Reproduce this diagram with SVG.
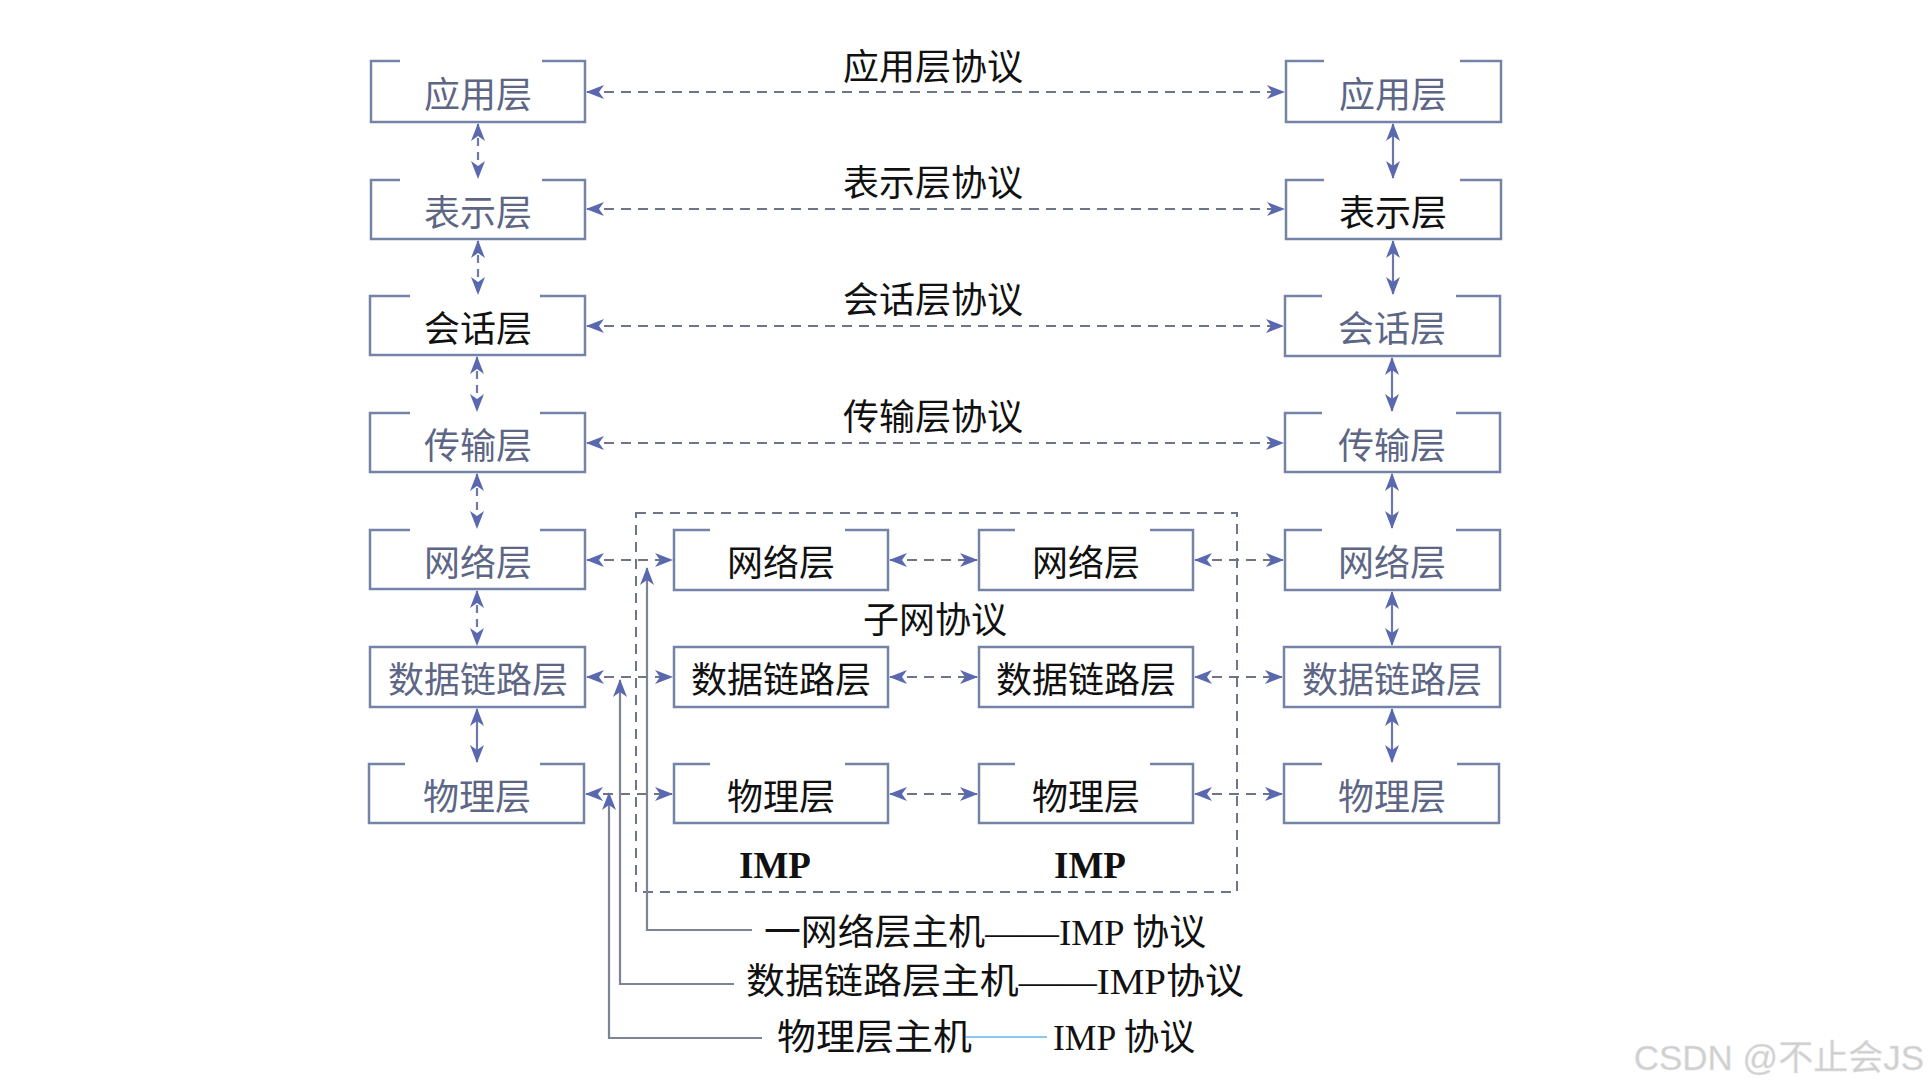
<svg xmlns="http://www.w3.org/2000/svg" width="1928" height="1090" viewBox="0 0 1928 1090">
<style>
.bx{fill:none;stroke:#7683a8;stroke-width:2.5}
.lb{font-family:"Liberation Serif","Noto Sans CJK SC",serif;font-size:36px;text-anchor:middle}
.g{fill:#5d6685}
.k{fill:#111}
.pt{font-family:"Liberation Serif","Noto Sans CJK SC",serif;font-size:36px;fill:#111}
.dh{fill:none;stroke:#6e7588;stroke-width:2.2;stroke-dasharray:10 7}
.dv{fill:none;stroke:#6e7aa8;stroke-width:2.2;stroke-dasharray:8 6}
.sv{fill:none;stroke:#6c78a8;stroke-width:2.2}
.hl{fill:none;stroke:#7c8496;stroke-width:2.2}
</style>
<defs>
<marker id="arr" viewBox="0 0 18 14" refX="17" refY="7" markerWidth="18" markerHeight="14" markerUnits="userSpaceOnUse" orient="auto-start-reverse">
<path d="M0,0 L18,7 L0,14 L5,7 z" fill="#5a68b0"/>
</marker>
</defs>
<rect width="1928" height="1090" fill="#fff"/>

<!-- protocol labels -->
<g id="labels">
<text class="pt" x="933" y="80" text-anchor="middle">应用层协议</text>
<text class="pt" x="933" y="196" text-anchor="middle">表示层协议</text>
<text class="pt" x="933" y="313" text-anchor="middle">会话层协议</text>
<text class="pt" x="933" y="430" text-anchor="middle">传输层协议</text>
<text class="pt" x="935" y="633" text-anchor="middle">子网协议</text>
<text x="775" y="878" font-family="Liberation Serif,serif" font-size="37" font-weight="bold" fill="#111" text-anchor="middle">IMP</text>
<text x="1090" y="878" font-family="Liberation Serif,serif" font-size="37" font-weight="bold" fill="#111" text-anchor="middle">IMP</text>
<text class="pt" x="764" y="945" textLength="442" lengthAdjust="spacingAndGlyphs">一网络层主机——IMP 协议</text>
<text class="pt" x="746" y="994" textLength="498" lengthAdjust="spacingAndGlyphs">数据链路层主机——IMP协议</text>
<text class="pt" x="777" y="1050" textLength="195" lengthAdjust="spacingAndGlyphs">物理层主机</text>
<text class="pt" x="1053" y="1050" textLength="142" lengthAdjust="spacingAndGlyphs">IMP 协议</text>
<text x="1924" y="1070" font-family="Liberation Sans,Noto Sans CJK SC,sans-serif" font-size="35" fill="#cfcfcf" stroke="#e4e4e4" stroke-width="0.5" text-anchor="end">CSDN @不止会JS</text>
</g>

<!-- subnet dashed frame -->
<g id="subnet-frame">
<rect x="636" y="513" width="601" height="379" fill="none" stroke="#6e7588" stroke-width="2" stroke-dasharray="10 7"/>
</g>

<!-- left stack -->
<g id="left-app"><path class="bx" d="M400,61 H371 V122 H585 V61 H542"/><text class="lb g" x="478" y="108">应用层</text></g>
<g id="left-pres"><path class="bx" d="M400,180 H371 V239 H585 V180 H542"/><text class="lb g" x="478" y="226">表示层</text></g>
<g id="left-sess"><path class="bx" d="M410,296 H370 V355 H585 V296 H540"/><text class="lb k" x="478" y="342">会话层</text></g>
<g id="left-trans"><path class="bx" d="M410,413 H370 V472 H585 V413 H540"/><text class="lb g" x="478" y="459">传输层</text></g>
<g id="left-net"><path class="bx" d="M410,530 H370 V589 H585 V530 H540"/><text class="lb g" x="478" y="576">网络层</text></g>
<g id="left-dl"><path class="bx" d="M370,647 H585 V707 H370 Z"/><text class="lb g" x="478" y="693">数据链路层</text></g>
<g id="left-phys"><path class="bx" d="M405,764 H369 V823 H584 V764 H540"/><text class="lb g" x="477" y="810">物理层</text></g>

<!-- IMP 1 -->
<g id="imp1-net"><path class="bx" d="M710,530 H674 V590 H888 V530 H845"/><text class="lb k" x="781" y="576">网络层</text></g>
<g id="imp1-dl"><path class="bx" d="M674,647 H888 V707 H674 Z"/><text class="lb k" x="781" y="693">数据链路层</text></g>
<g id="imp1-phys"><path class="bx" d="M710,764 H674 V823 H888 V764 H845"/><text class="lb k" x="781" y="810">物理层</text></g>

<!-- IMP 2 -->
<g id="imp2-net"><path class="bx" d="M1015,530 H979 V590 H1193 V530 H1150"/><text class="lb k" x="1086" y="576">网络层</text></g>
<g id="imp2-dl"><path class="bx" d="M979,647 H1193 V707 H979 Z"/><text class="lb k" x="1086" y="693">数据链路层</text></g>
<g id="imp2-phys"><path class="bx" d="M1015,764 H979 V823 H1193 V764 H1150"/><text class="lb k" x="1086" y="810">物理层</text></g>

<!-- right stack -->
<g id="right-app"><path class="bx" d="M1324,61 H1286 V122 H1501 V61 H1460"/><text class="lb g" x="1393" y="108">应用层</text></g>
<g id="right-pres"><path class="bx" d="M1324,180 H1286 V239 H1501 V180 H1460"/><text class="lb k" x="1393" y="226">表示层</text></g>
<g id="right-sess"><path class="bx" d="M1322,296 H1285 V356 H1500 V296 H1456"/><text class="lb g" x="1392" y="342">会话层</text></g>
<g id="right-trans"><path class="bx" d="M1322,413 H1285 V472 H1500 V413 H1456"/><text class="lb g" x="1392" y="459">传输层</text></g>
<g id="right-net"><path class="bx" d="M1322,530 H1285 V590 H1500 V530 H1456"/><text class="lb g" x="1392" y="576">网络层</text></g>
<g id="right-dl"><path class="bx" d="M1284,647 H1500 V707 H1284 Z"/><text class="lb g" x="1392" y="693">数据链路层</text></g>
<g id="right-phys"><path class="bx" d="M1322,764 H1284 V823 H1499 V764 H1457"/><text class="lb g" x="1392" y="810">物理层</text></g>

<!-- connectors -->
<g id="connectors">
<line class="dh" x1="587" y1="92" x2="1284" y2="92" marker-start="url(#arr)" marker-end="url(#arr)"/>
<line class="dh" x1="587" y1="209" x2="1284" y2="209" stroke="#7d86b8" marker-start="url(#arr)" marker-end="url(#arr)"/>
<line class="dh" x1="587" y1="326" x2="1283" y2="326" marker-start="url(#arr)" marker-end="url(#arr)"/>
<line class="dh" x1="587" y1="443" x2="1283" y2="443" marker-start="url(#arr)" marker-end="url(#arr)"/>

<line class="dh" x1="587" y1="560" x2="672" y2="560" marker-start="url(#arr)" marker-end="url(#arr)"/>
<line class="dh" x1="890" y1="560" x2="977" y2="560" marker-start="url(#arr)" marker-end="url(#arr)"/>
<line class="dh" x1="1195" y1="560" x2="1283" y2="560" marker-start="url(#arr)" marker-end="url(#arr)"/>
<line class="dh" x1="587" y1="677" x2="672" y2="677" marker-start="url(#arr)" marker-end="url(#arr)"/>
<line class="dh" x1="890" y1="677" x2="977" y2="677" marker-start="url(#arr)" marker-end="url(#arr)"/>
<line class="dh" x1="1195" y1="677" x2="1282" y2="677" marker-start="url(#arr)" marker-end="url(#arr)"/>
<line class="dh" x1="586" y1="794" x2="672" y2="794" marker-start="url(#arr)" marker-end="url(#arr)"/>
<line class="dh" x1="890" y1="794" x2="977" y2="794" marker-start="url(#arr)" marker-end="url(#arr)"/>
<line class="dh" x1="1195" y1="794" x2="1282" y2="794" marker-start="url(#arr)" marker-end="url(#arr)"/>

<line class="dv" x1="478" y1="124" x2="478" y2="178" marker-start="url(#arr)" marker-end="url(#arr)"/>
<line class="dv" x1="478" y1="241" x2="478" y2="294" marker-start="url(#arr)" marker-end="url(#arr)"/>
<line class="dv" x1="477" y1="357" x2="477" y2="411" marker-start="url(#arr)" marker-end="url(#arr)"/>
<line class="dv" x1="477" y1="474" x2="477" y2="528" marker-start="url(#arr)" marker-end="url(#arr)"/>
<line class="dv" x1="477" y1="591" x2="477" y2="645" marker-start="url(#arr)" marker-end="url(#arr)"/>
<line class="sv" x1="477" y1="709" x2="477" y2="762" marker-start="url(#arr)" marker-end="url(#arr)"/>

<line class="sv" x1="1393" y1="124" x2="1393" y2="178" marker-start="url(#arr)" marker-end="url(#arr)"/>
<line class="sv" x1="1393" y1="241" x2="1393" y2="294" marker-start="url(#arr)" marker-end="url(#arr)"/>
<line class="sv" x1="1392" y1="358" x2="1392" y2="411" marker-start="url(#arr)" marker-end="url(#arr)"/>
<line class="sv" x1="1392" y1="474" x2="1392" y2="528" marker-start="url(#arr)" marker-end="url(#arr)"/>
<line class="sv" x1="1392" y1="592" x2="1392" y2="645" marker-start="url(#arr)" marker-end="url(#arr)"/>
<line class="sv" x1="1392" y1="709" x2="1392" y2="762" marker-start="url(#arr)" marker-end="url(#arr)"/>

<polyline class="hl" points="752,930 647,930 647,568" marker-end="url(#arr)"/>
<polyline class="hl" points="734,984 620,984 620,680" marker-end="url(#arr)"/>
<polyline class="hl" points="762,1038 609,1038 609,793" stroke="#7d9bd0" marker-end="url(#arr)"/>
<line x1="966" y1="1037" x2="1047" y2="1037" stroke="#8cc8f0" stroke-width="2"/>
</g>
</svg>
